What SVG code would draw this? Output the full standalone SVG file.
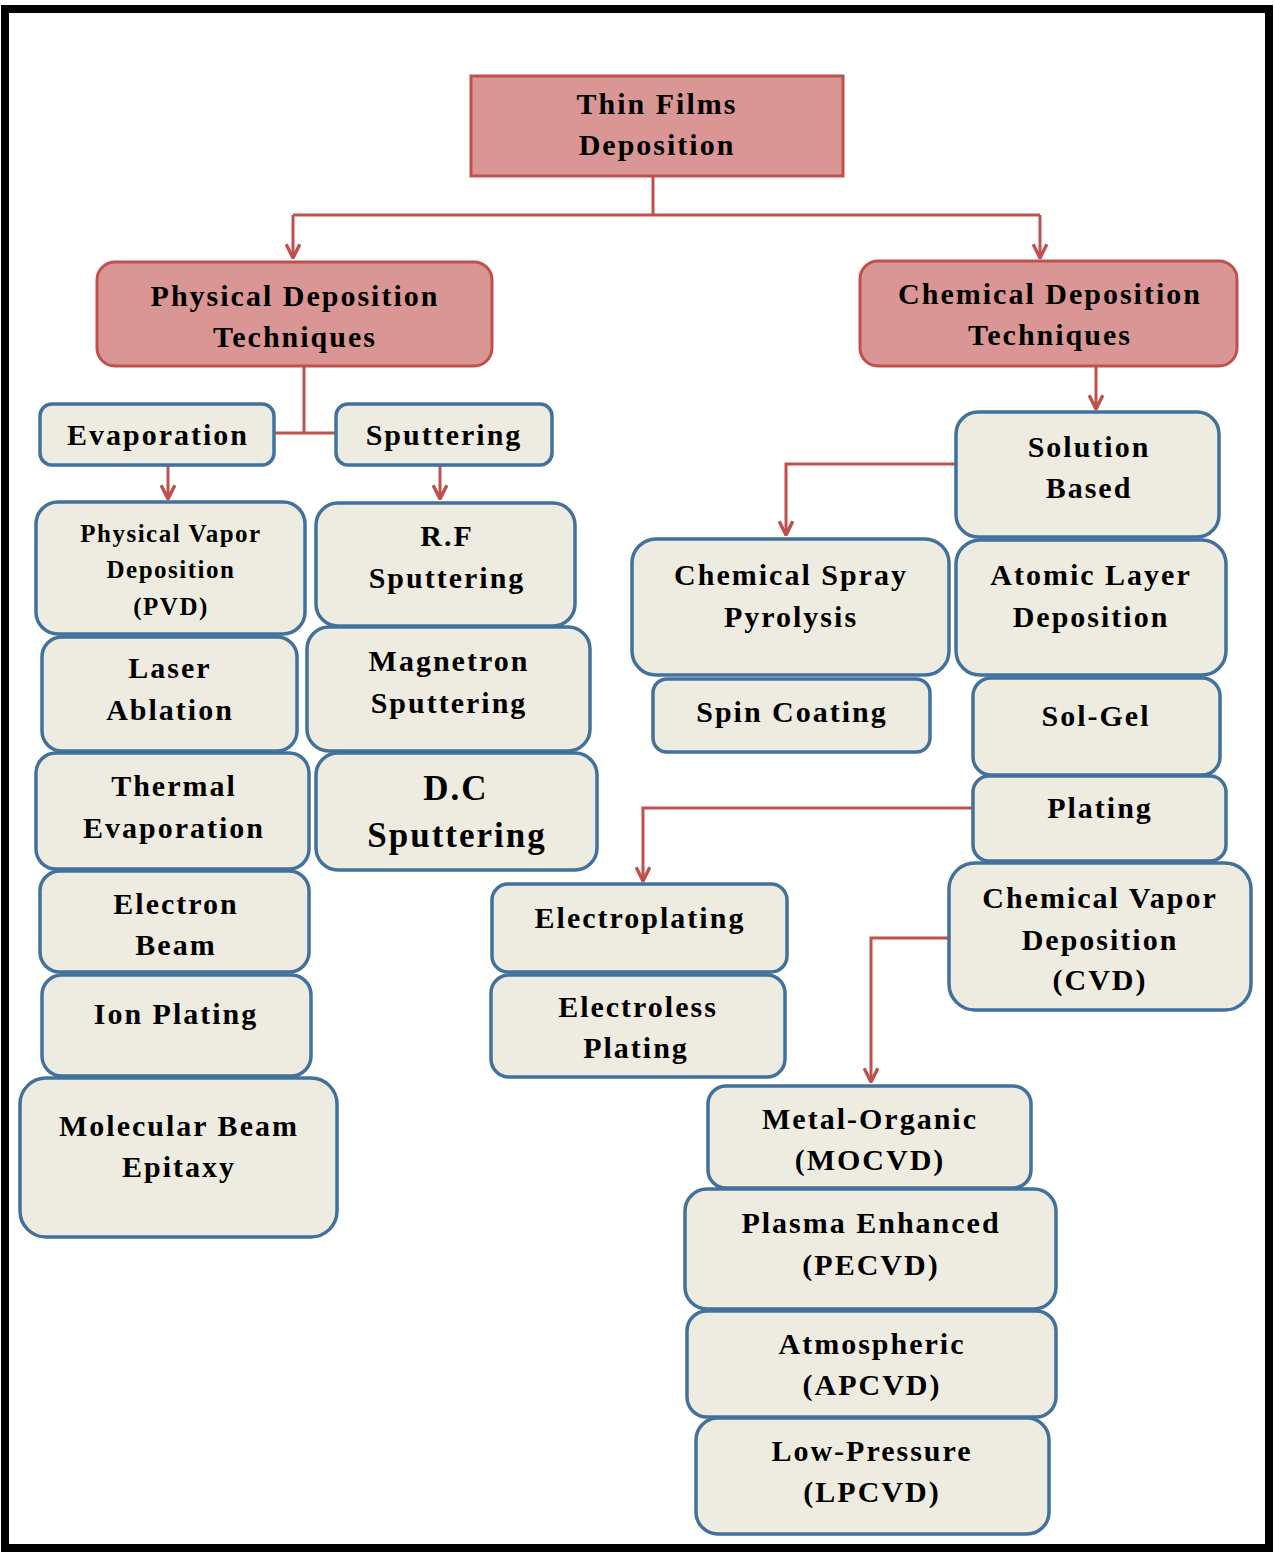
<svg xmlns="http://www.w3.org/2000/svg" width="1275" height="1553" viewBox="0 0 1275 1553">
<defs>
<style>
.pk{fill:#D99694;stroke:#C0504D;stroke-width:3}
.bx{fill:#EEECE1;stroke:#41719C;stroke-width:3.5}
text{font-family:"Liberation Serif","Times New Roman",serif;font-weight:bold;fill:#000;text-anchor:middle}
.t{font-size:30px;letter-spacing:2px}
.s{font-size:25px;letter-spacing:1.5px}
.l{font-size:35px;letter-spacing:2px}
.c{fill:none;stroke:#C0504D;stroke-width:3}
</style>
<marker id="ar" viewBox="0 0 14 14" refX="13" refY="7" markerWidth="16" markerHeight="16" markerUnits="userSpaceOnUse" orient="auto">
<path d="M1,1 L13,7 L1,13" fill="none" stroke="#C0504D" stroke-width="3"/>
</marker>
</defs>
<rect x="0" y="0" width="1275" height="1553" fill="#fff"/>
<rect x="5" y="9" width="1264" height="1539" fill="none" stroke="#000" stroke-width="8"/>

<g id="connectors">
<path class="c" d="M653,176 V215 M293,215 H1040"/>
<path class="c" d="M293,215 V258" marker-end="url(#ar)"/>
<path class="c" d="M1040,215 V258" marker-end="url(#ar)"/>
<path class="c" d="M304,366 V433 M274,433 H336"/>
<path class="c" d="M168,465 V499" marker-end="url(#ar)"/>
<path class="c" d="M440,465 V499" marker-end="url(#ar)"/>
<path class="c" d="M1096,366 V409" marker-end="url(#ar)"/>
<path class="c" d="M956,464 H786 V535" marker-end="url(#ar)"/>
<path class="c" d="M973,808 H643 V881" marker-end="url(#ar)"/>
<path class="c" d="M949,938 H871 V1082" marker-end="url(#ar)"/>
</g>

<g id="thin-films"><rect class="pk" x="471" y="76" width="372" height="100"/><text class="t" x="657" y="114">Thin Films</text><text class="t" x="657" y="155">Deposition</text></g>
<g id="physical"><rect class="pk" x="97" y="262" width="395" height="104" rx="18"/><text class="t" x="295" y="306">Physical Deposition</text><text class="t" x="295" y="347">Techniques</text></g>
<g id="chemical"><rect class="pk" x="860" y="261" width="377" height="105" rx="18"/><text class="t" x="1050" y="304">Chemical Deposition</text><text class="t" x="1050" y="345">Techniques</text></g>

<g id="evaporation"><rect class="bx" x="40" y="404" width="234" height="61" rx="12"/><text class="t" x="158" y="445">Evaporation</text></g>
<g id="sputtering"><rect class="bx" x="336" y="404" width="216" height="61" rx="12"/><text class="t" x="444" y="445">Sputtering</text></g>
<g id="pvd"><rect class="bx" x="36" y="502" width="269" height="132" rx="22"/><text class="s" x="171" y="542">Physical Vapor</text><text class="s" x="171" y="578">Deposition</text><text class="s" x="171" y="615">(PVD)</text></g>
<g id="rf"><rect class="bx" x="316" y="503" width="259" height="123" rx="22"/><text class="t" x="447" y="546">R.F</text><text class="t" x="447" y="588">Sputtering</text></g>
<g id="laser"><rect class="bx" x="42" y="637" width="255" height="114" rx="20"/><text class="t" x="170" y="678">Laser</text><text class="t" x="170" y="720">Ablation</text></g>
<g id="magnetron"><rect class="bx" x="307" y="627" width="283" height="124" rx="22"/><text class="t" x="449" y="671">Magnetron</text><text class="t" x="449" y="713">Sputtering</text></g>
<g id="thermal"><rect class="bx" x="36" y="753" width="273" height="116" rx="20"/><text class="t" x="174" y="796">Thermal</text><text class="t" x="174" y="838">Evaporation</text></g>
<g id="dc"><rect class="bx" x="316" y="753" width="281" height="117" rx="22"/><text class="l" x="456" y="800">D.C</text><text class="l" x="457" y="847">Sputtering</text></g>
<g id="ebeam"><rect class="bx" x="40" y="871" width="269" height="101" rx="20"/><text class="t" x="176" y="914">Electron</text><text class="t" x="176" y="955">Beam</text></g>
<g id="ion"><rect class="bx" x="42" y="975" width="269" height="101" rx="20"/><text class="t" x="176" y="1024">Ion Plating</text></g>
<g id="mbe"><rect class="bx" x="20" y="1078" width="317" height="159" rx="26"/><text class="t" x="179" y="1136">Molecular Beam</text><text class="t" x="179" y="1177">Epitaxy</text></g>

<g id="solution"><rect class="bx" x="956" y="412" width="263" height="125" rx="22"/><text class="t" x="1089" y="457">Solution</text><text class="t" x="1089" y="498">Based</text></g>
<g id="spray"><rect class="bx" x="632" y="539" width="317" height="136" rx="24"/><text class="t" x="791" y="585">Chemical Spray</text><text class="t" x="791" y="627">Pyrolysis</text></g>
<g id="ald"><rect class="bx" x="956" y="540" width="270" height="135" rx="24"/><text class="t" x="1091" y="585">Atomic Layer</text><text class="t" x="1091" y="627">Deposition</text></g>
<g id="spin"><rect class="bx" x="653" y="679" width="277" height="73" rx="14"/><text class="t" x="792" y="722">Spin Coating</text></g>
<g id="solgel"><rect class="bx" x="973" y="678" width="247" height="97" rx="18"/><text class="t" x="1096" y="726">Sol-Gel</text></g>
<g id="plating"><rect class="bx" x="973" y="776" width="253" height="85" rx="16"/><text class="t" x="1100" y="818">Plating</text></g>
<g id="cvd"><rect class="bx" x="949" y="863" width="302" height="147" rx="26"/><text class="t" x="1100" y="908">Chemical Vapor</text><text class="t" x="1100" y="950">Deposition</text><text class="t" x="1100" y="990">(CVD)</text></g>
<g id="electroplating"><rect class="bx" x="492" y="884" width="295" height="88" rx="16"/><text class="t" x="640" y="928">Electroplating</text></g>
<g id="electroless"><rect class="bx" x="491" y="975" width="294" height="102" rx="18"/><text class="t" x="638" y="1017">Electroless</text><text class="t" x="636" y="1058">Plating</text></g>
<g id="mocvd"><rect class="bx" x="708" y="1086" width="323" height="102" rx="18"/><text class="t" x="870" y="1129">Metal-Organic</text><text class="t" x="870" y="1170">(MOCVD)</text></g>
<g id="pecvd"><rect class="bx" x="685" y="1189" width="371" height="120" rx="22"/><text class="t" x="871" y="1233">Plasma Enhanced</text><text class="t" x="871" y="1275">(PECVD)</text></g>
<g id="apcvd"><rect class="bx" x="687" y="1311" width="369" height="106" rx="20"/><text class="t" x="872" y="1354">Atmospheric</text><text class="t" x="872" y="1395">(APCVD)</text></g>
<g id="lpcvd"><rect class="bx" x="696" y="1418" width="353" height="116" rx="22"/><text class="t" x="872" y="1461">Low-Pressure</text><text class="t" x="872" y="1502">(LPCVD)</text></g>
</svg>
